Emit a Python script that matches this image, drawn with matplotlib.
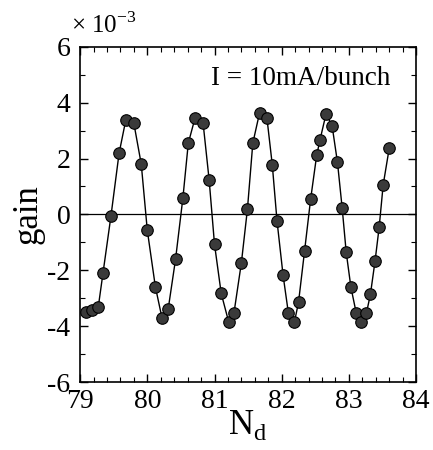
import matplotlib
matplotlib.use("Agg")
import matplotlib.pyplot as plt
from matplotlib.ticker import MultipleLocator

nd = [79.09, 79.18, 79.27, 79.34, 79.46, 79.58, 79.68, 79.80, 79.91, 80.00,
      80.12, 80.22, 80.31, 80.42, 80.53, 80.61, 80.71, 80.83, 80.92, 81.00,
      81.10, 81.21, 81.29, 81.40, 81.49, 81.57, 81.67, 81.78, 81.86, 81.93,
      82.02, 82.10, 82.19, 82.25, 82.34, 82.43, 82.52, 82.57, 82.66, 82.75,
      82.83, 82.90, 82.96, 83.03, 83.11, 83.18, 83.26, 83.32, 83.39, 83.45,
      83.51, 83.60]
gain = [-3.50, -3.43, -3.32, -2.11, -0.04, 2.19, 3.38, 3.26, 1.80, -0.57,
        -2.59, -3.72, -3.40, -1.61, 0.60, 2.55, 3.45, 3.27, 1.24, -1.07,
        -2.83, -3.84, -3.52, -1.73, 0.19, 2.55, 3.63, 3.45, 1.77, -0.23,
        -2.17, -3.54, -3.84, -3.15, -1.31, 0.54, 2.11, 2.67, 3.60, 3.17,
        1.86, 0.22, -1.36, -2.61, -3.54, -3.85, -3.54, -2.86, -1.65, -0.46,
        1.06, 2.37]

xticks = [79, 80, 81, 82, 83, 84]
yticks = [-6, -4, -2, 0, 2, 4, 6]

plt.rcParams['font.family'] = ['Liberation Serif', 'DejaVu Serif']
fig = plt.figure(figsize=(4.33, 4.5), dpi=100)
ax = fig.add_axes([0.185, 0.151, 0.776, 0.745])

ax.axhline(0, color='black', lw=0.9)
ax.plot(nd, gain, color='black', lw=1.0, zorder=2)
ax.plot(nd, gain, 'o', ms=8.3, mfc='#3a3a3a', mec='black', mew=0.8, lw=0, zorder=3)

ax.set_xlim(79, 84)
ax.set_ylim(-6, 6)
ax.set_xticks(xticks)
ax.set_yticks(yticks)
ax.set_xticklabels([str(t) for t in xticks])
ax.set_yticklabels([str(t) for t in yticks])
ax.xaxis.set_minor_locator(MultipleLocator(0.2))
ax.yaxis.set_minor_locator(MultipleLocator(1))
ax.tick_params(which='both', direction='in', top=True, right=True, labelsize=20)
ax.tick_params(axis='x', which='major', pad=5)
ax.tick_params(axis='y', which='major', pad=7)
ax.tick_params(which='major', length=6, width=1)
ax.tick_params(which='minor', length=3.5, width=0.8)
for s in ax.spines.values():
    s.set_linewidth(1.2)

ax.set_xlabel(r'N$_\mathregular{d}$', fontsize=25, labelpad=-4)
ax.set_ylabel('gain', fontsize=25, labelpad=2)
ax.text(0.923, 0.887, 'I = 10mA/bunch', transform=ax.transAxes, ha='right', va='baseline', fontsize=19.5)
fig.text(0.165, 0.927, r'× 10$^{\mathregular{-3}}$', ha='left', va='baseline', fontsize=18)

fig.savefig('out.png', dpi=100)
